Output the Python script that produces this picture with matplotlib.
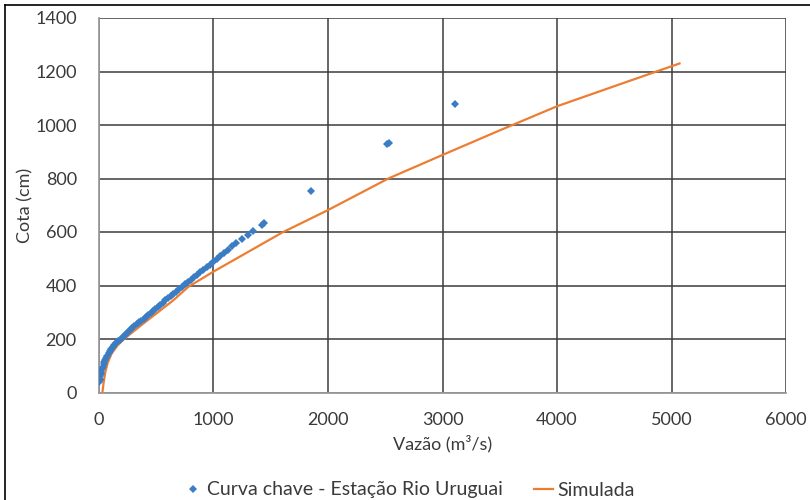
import matplotlib
matplotlib.use("Agg")
import matplotlib.pyplot as plt
from matplotlib.lines import Line2D

# rating curve readings (discharge m3/s, stage cm)
vazao_obs = [2, 5, 8, 12, 16, 20, 26, 33, 40, 48, 56, 64, 74, 84, 95, 108, 120,
             135, 150, 165, 180, 197, 215, 232, 250, 270, 290, 310, 330, 350,
             370, 390, 410, 430, 450, 470, 492, 514, 536, 558, 580, 603, 626,
             650, 675, 700, 725, 750, 776, 802, 828, 855, 882, 910, 940, 970,
             1000, 1030, 1060, 1095, 1130, 1165, 1200, 1250, 1300, 1345, 1420,
             1440, 1850, 2515, 2530, 3105]
cota_obs = [38, 45, 52, 60, 68, 76, 86, 96, 106, 114, 122, 130, 138, 146, 154,
            163, 171, 179, 186, 192, 198, 205, 212, 218, 225, 233, 240, 247,
            255, 262, 269, 276, 283, 290, 297, 304, 312, 320, 328, 336, 344,
            352, 360, 368, 377, 386, 395, 404, 413, 422, 431, 440, 449, 458,
            468, 478, 489, 499, 510, 522, 534, 546, 558, 573, 588, 605, 625,
            634, 752, 928, 934, 1078]

# simulated curve
vazao_sim = [30, 40, 55, 75, 110, 160, 220, 300, 400, 500, 650, 780, 1000,
             1300, 1600, 2000, 2527, 3000, 3500, 4000, 4500, 5070]
cota_sim = [0, 35, 75, 110, 145, 175, 200, 228, 262, 295, 345, 395, 452,
            525, 598, 682, 800, 888, 980, 1070, 1145, 1230]

plt.rcParams["font.family"] = ["Lato", "DejaVu Sans"]
text_color = "#3a3a3a"

fig = plt.figure(figsize=(8.1, 5.0), dpi=100)
ax = fig.add_axes([0.1222, 0.215, 0.8482, 0.749])

ax.plot(vazao_sim, cota_sim, color="#ED7D31", lw=1.6, zorder=3)
ax.plot(vazao_obs, cota_obs, ls="none", marker="D", ms=3.6,
        color="#3B7DC4", mew=0, zorder=4)

ax.set_xlim(0, 6000)
ax.set_ylim(0, 1400)
ax.set_xticks(range(0, 6001, 1000))
ax.set_yticks(range(0, 1401, 200))
ax.grid(True, color="#3c3c3c", lw=1.1)
ax.set_axisbelow(True)
for side in ("top", "right"):
    ax.spines[side].set_visible(False)
for side in ("left", "bottom"):
    ax.spines[side].set_color("#9a9a9a")
    ax.spines[side].set_linewidth(1.3)
ax.tick_params(length=0, labelsize=13, colors=text_color)
ax.tick_params(axis="y", pad=16)
ax.tick_params(axis="x", pad=14)

ax.set_xlabel("Vazão (m³/s)", fontsize=13, color=text_color, labelpad=5)
ax.set_ylabel("Cota (cm)", fontsize=13, color=text_color, labelpad=1)

handles = [
    Line2D([], [], ls="none", marker="D", ms=3.6, color="#3B7DC4", mew=0),
    Line2D([], [], color="#ED7D31", lw=1.6),
]
fig.legend(handles, ["Curva chave - Estação Rio Uruguai", "Simulada"],
           loc="center", bbox_to_anchor=(0.505, 0.02), ncol=2, frameon=False,
           fontsize=14, labelcolor=text_color, handlelength=1.0,
           handletextpad=0.2, columnspacing=1.6)

# outer frame on left and top edges
fig.add_artist(Line2D([0.006, 0.006], [0, 0.99], color="black", lw=1.2,
                      transform=fig.transFigure))
fig.add_artist(Line2D([0.006, 1.0], [0.99, 0.99], color="black", lw=1.2,
                      transform=fig.transFigure))

fig.savefig("out.png", dpi=100)
